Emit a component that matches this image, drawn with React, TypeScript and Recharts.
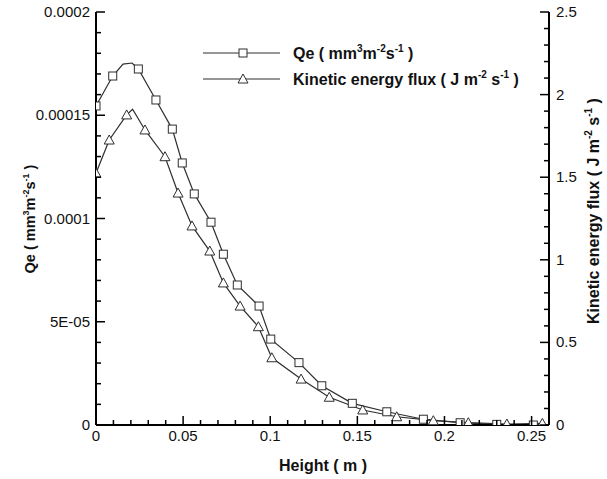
import { LineChart, Line, XAxis, YAxis } from 'recharts';

// Qe markers (height in m, Qe in mm3 m-2 s-1)
const qeHeight = [0, 0.0096, 0.0243, 0.0344, 0.0438, 0.0495, 0.0564, 0.066, 0.0731, 0.0811, 0.0936, 0.1003, 0.1165, 0.1296, 0.1471, 0.1669, 0.1879, 0.209, 0.23, 0.251];
const qeValue = [0.0001545, 0.000169, 0.0001724, 0.0001574, 0.0001433, 0.0001269, 0.0001119, 0.0000982, 0.0000827, 0.0000678, 0.0000576, 0.0000416, 0.0000302, 0.000019, 0.0000105, 0.0000064, 0.0000028, 0.0000011, 0.0000003, 0];
// extra line points near the Qe peak (no marker)
const qePeakHeight = [0.0155, 0.0207];
const qePeakValue = [0.0001748, 0.0001753];

// kinetic energy flux markers (J m-2 s-1)
const keHeight = [0, 0.0076, 0.0176, 0.0281, 0.0396, 0.0471, 0.0551, 0.0653, 0.0731, 0.0827, 0.0932, 0.1009, 0.1177, 0.1339, 0.1531, 0.1726, 0.1936, 0.2137, 0.2358, 0.2562];
const keValue = [1.524, 1.725, 1.877, 1.786, 1.624, 1.404, 1.205, 1.053, 0.86, 0.72, 0.595, 0.407, 0.278, 0.168, 0.091, 0.05, 0.026, 0.014, 0.006, 0.01];
const kePeakHeight = [0.021];
const kePeakValue = [1.911];

const xMajorTicks = [0, 0.05, 0.1, 0.15, 0.2, 0.25];
const xTickLabels = ['0', '0.05', '0.1', '0.15', '0.2', '0.25'];
const leftMajorTicks = [0, 0.00005, 0.0001, 0.00015, 0.0002];
const leftTickLabels = ['0', '5E-05', '0.0001', '0.00015', '0.0002'];
const rightMajorTicks = [0, 0.5, 1, 1.5, 2, 2.5];
const rightTickLabels = ['0', '0.5', '1', '1.5', '2', '2.5'];

const xMinor = Array.from({ length: 27 }, (_, i) => i / 100);
const leftMinor = Array.from({ length: 21 }, (_, i) => i / 100000);
const rightMinor = Array.from({ length: 26 }, (_, i) => i / 10);

const toPoints = (hs: number[], vs: number[]) => hs.map((h, i) => ({ h, v: vs[i] }));
const merged = (a: { h: number; v: number }[], b: { h: number; v: number }[]) =>
  [...a, ...b].sort((p, q) => p.h - q.h);

const qeMarks = toPoints(qeHeight, qeValue);
const keMarks = toPoints(keHeight, keValue);
const qeLine = merged(qeMarks, toPoints(qePeakHeight, qePeakValue));
const keLine = merged(keMarks, toPoints(kePeakHeight, kePeakValue));

const FONT = '"Liberation Sans", Arial, sans-serif';
const INK = '#2e2e2e';

const findMajor = (ticks: number[], v: number) => ticks.findIndex(t => Math.abs(t - v) < 1e-12);

const XTick = (props: any) => {
  const { x, y, payload } = props;
  const idx = findMajor(xMajorTicks, payload.value);
  const len = idx >= 0 ? 9 : 5;
  return (
    <g>
      <line x1={x} y1={y} x2={x} y2={y - len} stroke="#000" strokeWidth={1.5} />
      {idx >= 0 && (
        <text x={x} y={y + 16} textAnchor="middle" fontSize={15} fontFamily={FONT} fill="#111">
          {xTickLabels[idx]}
        </text>
      )}
    </g>
  );
};

const LeftTick = (props: any) => {
  const { x, y, payload } = props;
  const idx = findMajor(leftMajorTicks, payload.value);
  const len = idx >= 0 ? 9 : 5;
  return (
    <g>
      <line x1={x} y1={y} x2={x + len} y2={y} stroke="#000" strokeWidth={1.5} />
      {idx >= 0 && (
        <text x={x - 6} y={y + 5} textAnchor="end" fontSize={15} fontFamily={FONT} fill="#111">
          {leftTickLabels[idx]}
        </text>
      )}
    </g>
  );
};

const RightTick = (props: any) => {
  const { x, y, payload } = props;
  const idx = findMajor(rightMajorTicks, payload.value);
  const len = idx >= 0 ? 9 : 5;
  return (
    <g>
      <line x1={x} y1={y} x2={x - len} y2={y} stroke="#000" strokeWidth={1.5} />
      {idx >= 0 && (
        <text x={x + 7} y={y + 5} textAnchor="start" fontSize={15} fontFamily={FONT} fill="#111">
          {rightTickLabels[idx]}
        </text>
      )}
    </g>
  );
};

const Square = ({ cx, cy }: { cx: number; cy: number }) => (
  <rect x={cx - 4} y={cy - 4} width={8} height={8} fill="#fff" stroke={INK} strokeWidth={1} />
);
const Triangle = ({ cx, cy }: { cx: number; cy: number }) => (
  <polygon points={`${cx},${cy - 5} ${cx - 5},${cy + 4} ${cx + 5},${cy + 4}`} fill="#fff" stroke={INK} strokeWidth={1} />
);

export default function App() {
  return (
    <div style={{ position: 'absolute', left: 0, top: 0, width: 607, height: 479, background: '#fff' }}>
      <LineChart width={607} height={479} margin={{ top: 12, right: 0, bottom: 0, left: 0 }}>
        <XAxis
          type="number"
          dataKey="h"
          domain={[0, 0.26]}
          ticks={xMinor}
          interval={0}
          height={54}
          tickSize={0}
          tickMargin={0}
          tickLine={false}
          tick={<XTick />}
          axisLine={{ stroke: '#000', strokeWidth: 2 }}
          allowDataOverflow
        />
        <YAxis
          yAxisId="left"
          orientation="left"
          type="number"
          domain={[0, 0.0002]}
          ticks={leftMinor}
          interval={0}
          width={96}
          tickSize={0}
          tickMargin={0}
          tickLine={false}
          tick={<LeftTick />}
          axisLine={{ stroke: '#000', strokeWidth: 2 }}
          allowDataOverflow
        />
        <YAxis
          yAxisId="right"
          orientation="right"
          type="number"
          domain={[0, 2.5]}
          ticks={rightMinor}
          interval={0}
          width={58}
          tickSize={0}
          tickMargin={0}
          tickLine={false}
          tick={<RightTick />}
          axisLine={{ stroke: '#000', strokeWidth: 2 }}
          allowDataOverflow
        />
        <Line yAxisId="left" data={qeLine} dataKey="v" type="linear" stroke={INK} strokeWidth={1.2} dot={false} activeDot={false} isAnimationActive={false} />
        <Line yAxisId="right" data={keLine} dataKey="v" type="linear" stroke={INK} strokeWidth={1.2} dot={false} activeDot={false} isAnimationActive={false} />
        <Line
          yAxisId="left"
          data={qeMarks}
          dataKey="v"
          stroke="none"
          dot={(p: any) => <Square key={`q${p.index}`} cx={p.cx} cy={p.cy} />}
          activeDot={false}
          isAnimationActive={false}
        />
        <Line
          yAxisId="right"
          data={keMarks}
          dataKey="v"
          stroke="none"
          dot={(p: any) => <Triangle key={`k${p.index}`} cx={p.cx} cy={p.cy} />}
          activeDot={false}
          isAnimationActive={false}
        />
      </LineChart>
      <svg width={607} height={479} style={{ position: 'absolute', left: 0, top: 0, pointerEvents: 'none' }}>
        <g fontFamily={FONT} fontWeight="bold" fill="#111">
          {/* legend */}
          <line x1={203} y1={53} x2={280} y2={53} stroke={INK} strokeWidth={1.2} />
          <Square cx={243} cy={53} />
          <text x={293} y={59} fontSize={16}>
            Qe ( mm<tspan fontSize={10} dy={-7}>3</tspan>
            <tspan dy={7}>m</tspan>
            <tspan fontSize={10} dy={-7}>-2</tspan>
            <tspan dy={7}>s</tspan>
            <tspan fontSize={10} dy={-7}>-1</tspan>
            <tspan dy={7}> )</tspan>
          </text>
          <line x1={203} y1={79} x2={280} y2={79} stroke={INK} strokeWidth={1.2} />
          <Triangle cx={243} cy={79} />
          <text x={293} y={85} fontSize={16}>
            Kinetic energy flux ( J m<tspan fontSize={10} dy={-7}>-2</tspan>
            <tspan dy={7}> s</tspan>
            <tspan fontSize={10} dy={-7}>-1</tspan>
            <tspan dy={7}> )</tspan>
          </text>

          {/* axis titles */}
          <text x={323} y={471} fontSize={16} textAnchor="middle">Height ( m )</text>
          <text x={35} y={219} fontSize={14.5} textAnchor="middle" transform="rotate(-90 35 219)">
            Qe ( mm<tspan fontSize={9} dy={-6}>3</tspan>
            <tspan dy={6}>m</tspan>
            <tspan fontSize={9} dy={-6}>-2</tspan>
            <tspan dy={6}>s</tspan>
            <tspan fontSize={9} dy={-6}>-1</tspan>
            <tspan dy={6}> )</tspan>
          </text>
          <text x={599} y={211} fontSize={16} textAnchor="middle" transform="rotate(-90 599 211)">
            Kinetic energy flux ( J m<tspan fontSize={10} dy={-7}>-2</tspan>
            <tspan dy={7}> s</tspan>
            <tspan fontSize={10} dy={-7}>-1</tspan>
            <tspan dy={7}> )</tspan>
          </text>
        </g>
      </svg>
    </div>
  );
}
